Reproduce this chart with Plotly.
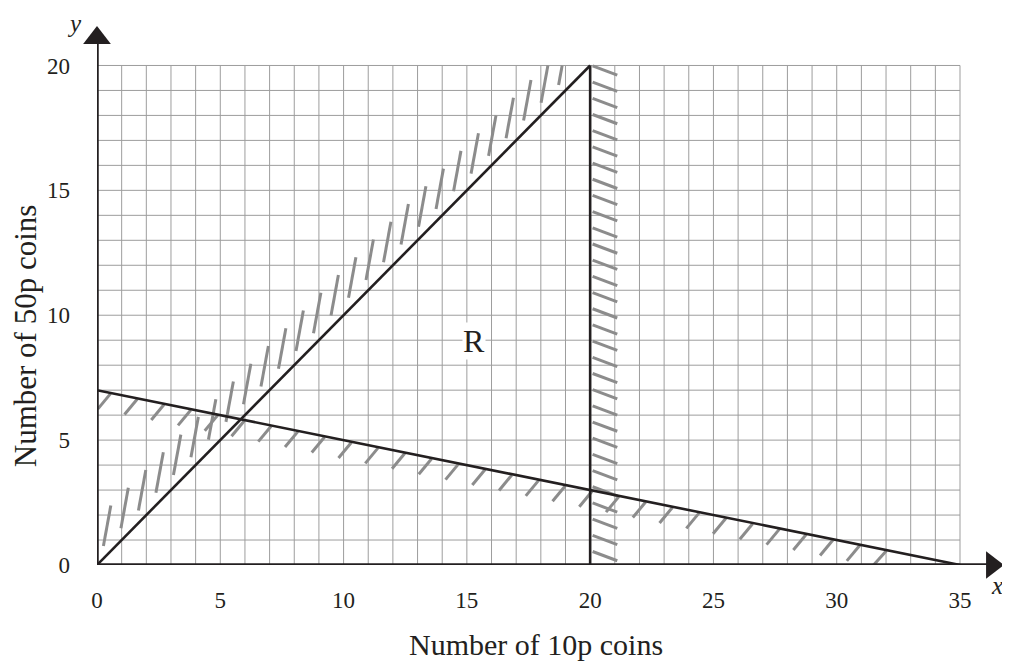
import numpy as np
import plotly.graph_objects as go

# constraint lines (endpoints)
line_a_x = [0, 20]    # y = x
line_a_y = [0, 20]
line_b_x = [20, 20]   # x = 20
line_b_y = [0, 20]
line_c_x = [0, 35]    # x + 5y = 35
line_c_y = [7, 0]

x_ticks = [0, 5, 10, 15, 20, 25, 30, 35]
y_ticks = [0, 5, 10, 15, 20]
grid_x_max = 35
grid_y_max = 20

region_label = "R"
region_pos = (15.3, 8.95)

serif = "Liberation Serif"
ink = "#231f20"
hatch_col = "#8c8c8c"

fig = go.Figure()

# grid
gx, gy = [], []
for i in range(grid_x_max + 1):
    gx += [i, i, None]
    gy += [0, grid_y_max, None]
for j in range(grid_y_max + 1):
    gx += [0, grid_x_max, None]
    gy += [j, j, None]
fig.add_trace(go.Scatter(x=gx, y=gy, mode="lines", line=dict(color="#9d9d9d", width=1),
                         hoverinfo="skip", showlegend=False))

# hatching, built from the constraint lines
def add_hatch(xs, ys):
    fig.add_trace(go.Scatter(x=xs, y=ys, mode="lines", line=dict(color=hatch_col, width=3),
                             hoverinfo="skip", showlegend=False))

# y = x : strokes on the upper side
hx, hy = [], []
for k in range(27):
    x0 = 0.26 + 0.71 * k
    y0 = np.interp(x0, line_a_x, line_a_y) + 0.5
    x1, y1 = x0 + 0.3, y0 + 1.62
    if y1 > grid_y_max:
        t = (grid_y_max - y0) / (y1 - y0)
        x1, y1 = x0 + t * 0.3, grid_y_max
    hx += [x0, x1, None]
    hy += [y0, y1, None]
add_hatch(hx, hy)

# x = 20 : strokes on the right
hx, hy = [], []
for k in range(31):
    y0 = 19.98 - 0.648 * k
    hx += [line_b_x[0] + 0.1, line_b_x[0] + 1.1, None]
    hy += [y0, y0 - 0.37, None]
add_hatch(hx, hy)

# x + 5y = 35 : strokes underneath
hx, hy = [], []
for k in range(30):
    xt = 0.55 + 1.085 * k
    yt = np.interp(xt, line_c_x, line_c_y) - 0.03
    hx += [xt, xt - 0.52, None]
    hy += [yt, max(yt - 0.62, 0), None]
add_hatch(hx, hy)

# constraint lines
for lx, ly in [(line_a_x, line_a_y), (line_b_x, line_b_y), (line_c_x, line_c_y)]:
    fig.add_trace(go.Scatter(x=lx, y=ly, mode="lines", line=dict(color=ink, width=2.6),
                             hoverinfo="skip", showlegend=False))

# axes with arrow heads
fig.add_trace(go.Scatter(x=[0, 0], y=[0, 21.1], mode="lines", line=dict(color=ink, width=3.5),
                         hoverinfo="skip", showlegend=False, cliponaxis=False))
fig.add_trace(go.Scatter(x=[0, 36.3], y=[0, 0], mode="lines", line=dict(color=ink, width=3.5),
                         hoverinfo="skip", showlegend=False, cliponaxis=False))
fig.add_trace(go.Scatter(x=[0], y=[21.1], mode="markers",
                         marker=dict(symbol="triangle-up", size=24, color=ink, line=dict(width=0)),
                         hoverinfo="skip", showlegend=False, cliponaxis=False))
fig.add_trace(go.Scatter(x=[36.3], y=[0], mode="markers",
                         marker=dict(symbol="triangle-right", size=24, color=ink, line=dict(width=0)),
                         hoverinfo="skip", showlegend=False, cliponaxis=False))

fig.add_annotation(x=region_pos[0], y=region_pos[1], text=region_label, showarrow=False,
                   font=dict(family=serif, size=32, color=ink), bgcolor="white", borderpad=0)

# axis letters and titles
ann = dict(xref="paper", yref="paper", showarrow=False, xanchor="center", yanchor="middle")
fig.add_annotation(x=-0.025, y=1.008, text="<i>y</i>",
                   font=dict(family=serif, size=25, color=ink), **ann)
fig.add_annotation(x=1.0, y=-0.038, text="<i>x</i>",
                   font=dict(family=serif, size=25, color=ink), **ann)
fig.add_annotation(x=0.488, y=-0.148, text="Number of 10p coins",
                   font=dict(family=serif, size=30, color=ink), **ann)
fig.add_annotation(x=-0.08, y=0.426, text="Number of 50p coins", textangle=-90,
                   font=dict(family=serif, size=31, color=ink), **ann)

fig.update_layout(
    width=1010, height=662,
    margin=dict(l=89, r=21, t=20, b=105),
    plot_bgcolor="white", paper_bgcolor="white",
    xaxis=dict(range=[0, 36.5], showgrid=False, zeroline=False, showline=False, automargin=False,
               tickvals=x_ticks, ticktext=[str(v) for v in x_ticks], ticks="",
               ticklabelstandoff=19,
               tickfont=dict(family=serif, size=23, color=ink)),
    yaxis=dict(range=[0, 21.5], showgrid=False, zeroline=False, showline=False, automargin=False,
               tickvals=y_ticks, ticktext=[str(v) for v in y_ticks], ticks="",
               ticklabelstandoff=26,
               tickfont=dict(family=serif, size=23, color=ink)),
)

fig.write_html("out.html")
